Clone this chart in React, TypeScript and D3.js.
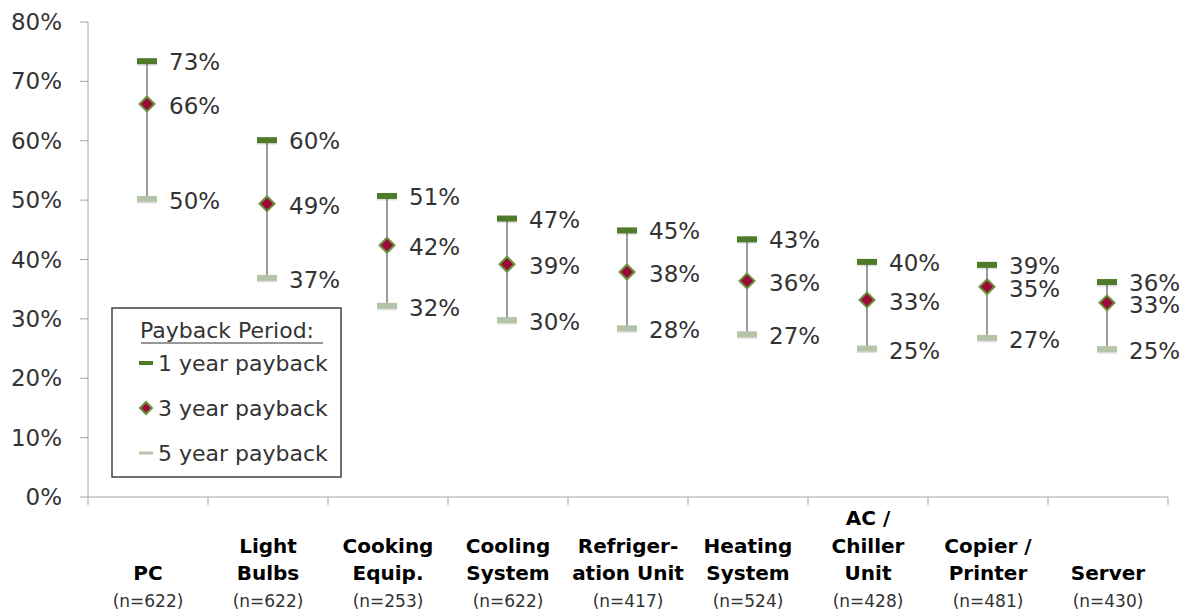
import React from "react";
import * as d3 from "d3";

const categories = ["PC", "Light Bulbs", "Cooking Equip.", "Cooling System", "Refrigeration Unit", "Heating System", "AC / Chiller Unit", "Copier / Printer", "Server"];
const categoryLines = [["PC"], ["Light", "Bulbs"], ["Cooking", "Equip."], ["Cooling", "System"], ["Refriger-", "ation Unit"], ["Heating", "System"], ["AC /", "Chiller", "Unit"], ["Copier /", "Printer"], ["Server"]];
const sampleSizes = [622, 622, 253, 622, 417, 524, 428, 481, 430];
const oneYear = [0.734, 0.601, 0.507, 0.469, 0.449, 0.434, 0.396, 0.391, 0.362];
const threeYear = [0.662, 0.494, 0.424, 0.392, 0.379, 0.364, 0.332, 0.354, 0.327];
const fiveYear = [0.502, 0.369, 0.322, 0.298, 0.284, 0.274, 0.250, 0.268, 0.249];
const yTicks = [0, 0.1, 0.2, 0.3, 0.4, 0.5, 0.6, 0.7, 0.8];
const legendItems = ["1 year payback", "3 year payback", "5 year payback"];

const W = 1188, H = 611;
const FONT = "'DejaVu Sans', Verdana, sans-serif";
const GREEN = "#4e7a2a";
const LIGHT = "#b4c4a8";
const RED = "#9a0b38";
const AXIS = "#a6a6a6";
const TXT = "#333333";

export default function App() {
  const x = d3.scaleBand<string>().domain(categories).range([88, 1168]).paddingInner(0).paddingOuter(0);
  const y = d3.scaleLinear().domain([0, 0.8]).range([497, 22]);
  const fmtTick = d3.format(".0%");
  const fmt = (v: number) => `${Math.round(v * 100)}%`;
  const bw = x.bandwidth();
  const MINGAP = 22;

  const dash = (cx: number, cy: number, color: string, key: string) => (
    <g key={key}>
      <rect x={cx - 10} y={cy - 3 + 1.5} width={20} height={6} fill="#000" opacity={0.12} />
      <rect x={cx - 10} y={cy - 3} width={20} height={6} fill={color} />
    </g>
  );
  const diamond = (cx: number, cy: number, key: string, r = 7.5) => (
    <path key={key} d={`M${cx},${cy - r}L${cx + r},${cy}L${cx},${cy + r}L${cx - r},${cy}Z`} fill={RED} stroke="#6a9440" strokeWidth={2} />
  );

  return (
    <svg width={W} height={H} style={{ position: "absolute", left: 0, top: 0, background: "#fff" }} fontFamily={FONT}>
      <rect width={W} height={H} fill="#fff" />
      {/* Y axis */}
      <line x1={88} x2={88} y1={y(0.8)} y2={y(0)} stroke={AXIS} strokeWidth={1} />
      {yTicks.map((t) => (
        <g key={t}>
          <line x1={80} x2={88} y1={y(t)} y2={y(t)} stroke={AXIS} />
          <text x={62} y={y(t)} textAnchor="end" dominantBaseline="central" fontSize={23} fill={TXT}>{fmtTick(t)}</text>
        </g>
      ))}
      {/* X axis */}
      <line x1={88} x2={1168} y1={y(0)} y2={y(0)} stroke={AXIS} />
      {categories.map((c) => (
        <line key={c} x1={(x(c) as number) + bw} x2={(x(c) as number) + bw} y1={y(0)} y2={y(0) + 8} stroke={AXIS} />
      ))}
      <line x1={88} x2={88} y1={y(0)} y2={y(0) + 8} stroke={AXIS} />
      {/* Category labels */}
      {categories.map((c, i) => {
        const cx = (x(c) as number) + bw / 2;
        const lines = categoryLines[i];
        return (
          <g key={c}>
            {lines.map((l, j) => (
              <text key={j} x={cx} y={580 - (lines.length - 1 - j) * 27.5} textAnchor="middle" fontSize={20} fontWeight="bold" fill="#000">{l}</text>
            ))}
            <text x={cx} y={607} textAnchor="middle" fontSize={17} fill={TXT}>{`(n=${sampleSizes[i]})`}</text>
          </g>
        );
      })}
      {/* Range lines and markers */}
      {categories.map((c, i) => {
        const cx = (x(c) as number) + bw / 2 - 1;
        let yTop = y(oneYear[i]) + 1;
        let yMid = y(threeYear[i]) + 2;
        const yBot = y(fiveYear[i]) + 2;
        if (yMid - yTop < MINGAP) {
          const d = (MINGAP - (yMid - yTop)) / 2;
          yTop -= d;
          yMid += d;
        }
        return (
          <g key={c}>
            <line x1={cx} x2={cx} y1={y(oneYear[i])} y2={y(fiveYear[i])} stroke="#595959" strokeWidth={1.2} />
            {dash(cx, y(oneYear[i]), GREEN, "a")}
            {dash(cx, y(fiveYear[i]), LIGHT, "c")}
            {diamond(cx, y(threeYear[i]), "b")}
            <text x={cx + 22} y={yTop} dominantBaseline="central" fontSize={23} fill={TXT}>{fmt(oneYear[i])}</text>
            <text x={cx + 22} y={yMid} dominantBaseline="central" fontSize={23} fill={TXT}>{fmt(threeYear[i])}</text>
            <text x={cx + 22} y={yBot} dominantBaseline="central" fontSize={23} fill={TXT}>{fmt(fiveYear[i])}</text>
          </g>
        );
      })}
      {/* Legend */}
      <g>
        <rect x={112} y={308} width={229} height={169} fill="#fff" stroke="#404040" strokeWidth={1.5} />
        <text x={227} y={338} textAnchor="middle" fontSize={22} fill={TXT}>Payback Period:</text>
        <line x1={141} x2={323} y1={343} y2={343} stroke={TXT} strokeWidth={1.2} />
        {legendItems.map((l, i) => {
          const ly = 363 + i * 45;
          return (
            <g key={l}>
              {i === 0 && <rect x={139} y={ly - 2} width={14} height={4} fill={GREEN} />}
              {i === 1 && diamond(146, ly, "ld", 6)}
              {i === 2 && <rect x={139} y={ly - 1.5} width={14} height={3} fill={LIGHT} />}
              <text x={158} y={ly} dominantBaseline="central" fontSize={22} fill={TXT}>{l}</text>
            </g>
          );
        })}
      </g>
    </svg>
  );
}
